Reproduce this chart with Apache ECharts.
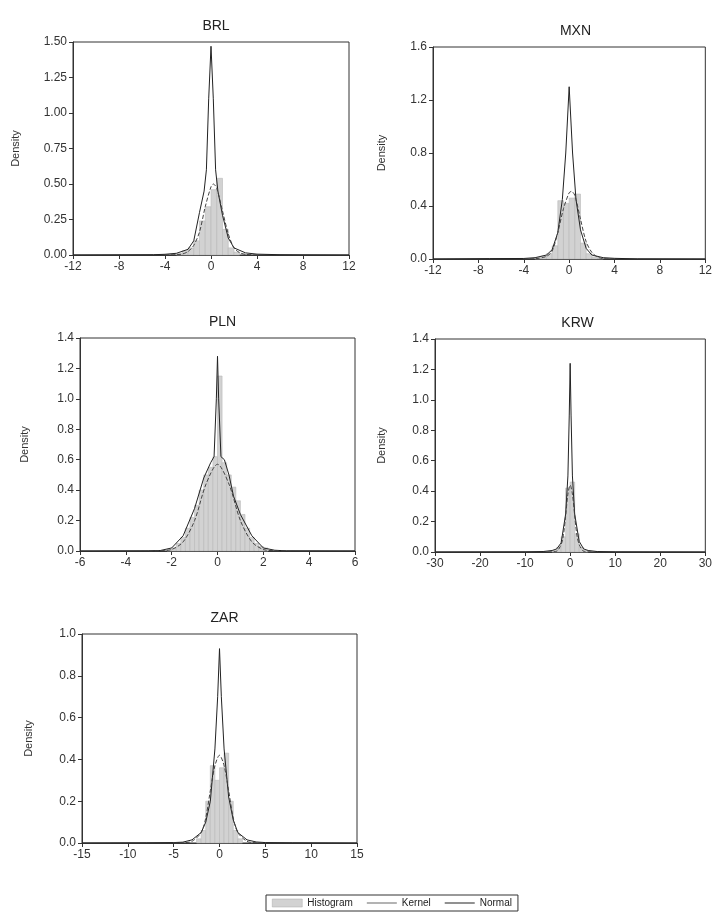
<!DOCTYPE html>
<html>
<head>
<meta charset="utf-8">
<script src="https://cdn.jsdelivr.net/npm/echarts@6/dist/echarts.min.js"></script>
<style>
  html, body { margin: 0; padding: 0; background: #fff; }
  #chart { width: 715px; height: 916px; }
</style>
</head>
<body>
<div id="chart"></div>
<script>
  // panel names
  const panels = ["BRL", "MXN", "PLN", "KRW", "ZAR"];

  // histogram bins: [center, density]
  const brlHist = [[-2.75,0.01],[-2.25,0.03],[-1.75,0.05],[-1.25,0.1],[-0.75,0.24],[-0.25,0.34],[0.25,0.46],[0.75,0.54],[1.25,0.18],[1.75,0.05],[2.25,0.02]];
  const mxnHist = [[-2.75,0.01],[-2.25,0.02],[-1.75,0.04],[-1.25,0.1],[-0.75,0.44],[-0.25,0.42],[0.25,0.46],[0.75,0.49],[1.25,0.12],[1.75,0.04],[2.25,0.015],[2.75,0.005]];
  const plnHist = [[-2.1,0.01],[-1.9,0.02],[-1.7,0.05],[-1.5,0.09],[-1.3,0.15],[-1.1,0.22],[-0.9,0.3],[-0.7,0.4],[-0.5,0.5],[-0.3,0.55],[-0.1,0.62],[0.1,1.15],[0.3,0.58],[0.5,0.5],[0.7,0.42],[0.9,0.33],[1.1,0.24],[1.3,0.15],[1.5,0.09],[1.7,0.05],[1.9,0.03],[2.1,0.02]];
  const krwHist = [[-3.5,0.01],[-2.5,0.03],[-1.5,0.1],[-0.5,0.42],[0.5,0.46],[1.5,0.12],[2.5,0.03],[3.5,0.01]];
  const zarHist = [[-2.25,0.02],[-1.75,0.06],[-1.25,0.2],[-0.75,0.37],[-0.25,0.3],[0.25,0.36],[0.75,0.43],[1.25,0.2],[1.75,0.06],[2.25,0.02]];
  const binWidths = [0.5, 0.5, 0.2, 1, 0.5];

  // kernel density: [x, density]
  const brlKernel = [[-12,0],[-8,0.001],[-5,0.002],[-4,0.005],[-3,0.012],[-2,0.04],[-1.5,0.1],[-1,0.3],[-0.6,0.45],[-0.4,0.6],[-0.2,1.1],[0,1.47],[0.2,1.1],[0.4,0.6],[0.6,0.45],[1,0.28],[1.5,0.12],[2,0.05],[3,0.015],[4,0.006],[6,0.002],[8,0.001],[12,0]];
  const mxnKernel = [[-12,0],[-7,0.003],[-4,0.004],[-3,0.01],[-2,0.03],[-1.5,0.07],[-1,0.2],[-0.6,0.45],[-0.3,0.8],[0,1.3],[0.3,0.8],[0.6,0.45],[1,0.22],[1.5,0.08],[2,0.03],[3,0.01],[4,0.005],[6,0.001],[12,0]];
  const plnKernel = [[-6,0],[-3,0.001],[-2.5,0.003],[-2,0.02],[-1.5,0.1],[-1,0.28],[-0.6,0.48],[-0.3,0.58],[-0.15,0.62],[-0.05,1.0],[0,1.28],[0.05,1.0],[0.15,0.62],[0.3,0.6],[0.5,0.5],[0.7,0.36],[1,0.24],[1.5,0.1],[2,0.02],[2.5,0.005],[3,0.001],[6,0]];
  const krwKernel = [[-30,0],[-10,0.001],[-6,0.003],[-4,0.01],[-3,0.02],[-2,0.06],[-1,0.25],[-0.5,0.5],[-0.2,0.9],[0,1.24],[0.2,0.9],[0.5,0.5],[1,0.25],[2,0.07],[3,0.02],[4,0.01],[6,0.003],[10,0.001],[30,0]];
  const zarKernel = [[-15,0],[-8,0.001],[-5,0.002],[-4,0.004],[-3,0.015],[-2,0.05],[-1.5,0.1],[-1,0.2],[-0.5,0.45],[-0.2,0.7],[0,0.93],[0.2,0.7],[0.5,0.45],[1,0.22],[1.5,0.11],[2,0.05],[3,0.015],[4,0.005],[5,0.002],[8,0.001],[15,0]];

  // theoretical normal: [x, density]
  const brlNormal = [[-4,0],[-3,0.002],[-2.5,0.007],[-2,0.024],[-1.5,0.068],[-1,0.162],[-0.5,0.34],[0,0.48],[0.2,0.5],[0.5,0.47],[1,0.31],[1.5,0.15],[2,0.05],[2.5,0.016],[3,0.005],[4,0]];
  const mxnNormal = [[-4,0],[-3,0.002],[-2,0.02],[-1.5,0.06],[-1,0.2],[-0.5,0.38],[0,0.5],[0.2,0.51],[0.5,0.48],[1,0.3],[1.5,0.13],[2,0.05],[2.5,0.015],[3,0.003],[4,0]];
  const plnNormal = [[-3,0],[-2.5,0.002],[-2,0.01],[-1.5,0.06],[-1,0.2],[-0.5,0.44],[0,0.57],[0.5,0.44],[1,0.2],[1.5,0.06],[2,0.01],[2.5,0.002],[3,0]];
  const krwNormal = [[-5,0],[-3,0.005],[-2,0.05],[-1.5,0.11],[-1,0.24],[-0.5,0.38],[0,0.44],[0.5,0.38],[1,0.24],[1.5,0.11],[2,0.05],[3,0.005],[5,0]];
  const zarNormal = [[-5,0],[-4,0.001],[-3,0.008],[-2,0.05],[-1.5,0.12],[-1,0.25],[-0.5,0.37],[0,0.42],[0.5,0.37],[1,0.25],[1.5,0.12],[2,0.05],[3,0.008],[4,0.001],[5,0]];

  // axis ranges: [min, max, interval]
  const xRanges = [[-12,12,4],[-12,12,4],[-6,6,2],[-30,30,10],[-15,15,5]];
  const yRanges = [[0,1.5,0.25],[0,1.6,0.4],[0,1.4,0.2],[0,1.4,0.2],[0,1.0,0.2]];
  const yDecimals = [2, 1, 1, 1, 1];

  const hists = [brlHist, mxnHist, plnHist, krwHist, zarHist];
  const kernels = [brlKernel, mxnKernel, plnKernel, krwKernel, zarKernel];
  const normals = [brlNormal, mxnNormal, plnNormal, krwNormal, zarNormal];

  // layout of each plot box
  const boxes = [
    {left: 73, top: 42, width: 276, height: 213, gap: 52},
    {left: 433, top: 47, width: 275, height: 212, gap: 46},
    {left: 80, top: 338, width: 275, height: 213, gap: 50},
    {left: 435, top: 339, width: 275, height: 213, gap: 48},
    {left: 82, top: 634, width: 275, height: 209, gap: 48}
  ];

  const FONT = "Liberation Sans";
  const HIST_COLOR = "#d2d2d2";
  const LINE_ICON = "path://M0,0 L30,0 L30,1 L0,1 Z";

  const chart = echarts.init(document.getElementById("chart"));

  const grid = [], xAxis = [], yAxis = [], series = [], title = [];

  panels.forEach((name, i) => {
    const b = boxes[i];
    grid.push({
      left: b.left, top: b.top, width: b.width, height: b.height,
      show: true, borderColor: "#333", borderWidth: 1, backgroundColor: "#fff"
    });
    title.push({
      text: name,
      left: b.left + b.width / 2,
      top: b.top - 28,
      textAlign: "center",
      textStyle: { fontFamily: FONT, fontSize: 14, fontWeight: "normal", color: "#222" }
    });
    xAxis.push({
      type: "value", gridIndex: i,
      min: xRanges[i][0], max: xRanges[i][1], interval: xRanges[i][2],
      splitLine: { show: false },
      axisLine: { onZero: false, lineStyle: { color: "#333" } },
      axisTick: { length: 4, lineStyle: { color: "#333" } },
      axisLabel: { fontFamily: FONT, fontSize: 12, color: "#333", margin: 6 }
    });
    yAxis.push({
      type: "value", gridIndex: i,
      min: yRanges[i][0], max: yRanges[i][1], interval: yRanges[i][2],
      name: "Density", nameLocation: "middle", nameRotate: 90, nameGap: b.gap,
      nameTextStyle: { fontFamily: FONT, fontSize: 11, color: "#333" },
      splitLine: { show: false },
      axisLine: { show: true, onZero: false, lineStyle: { color: "#333" } },
      axisTick: { show: true, length: 4, lineStyle: { color: "#333" } },
      axisLabel: {
        fontFamily: FONT, fontSize: 12, color: "#333", margin: 6,
        formatter: v => v.toFixed(yDecimals[i])
      }
    });

    const w = binWidths[i];
    series.push({
      name: "Histogram",
      type: "custom",
      xAxisIndex: i, yAxisIndex: i,
      itemStyle: { color: HIST_COLOR },
      renderItem: (params, api) => {
        const c = api.value(0), h = api.value(1);
        const p0 = api.coord([c - w / 2, h]);
        const p1 = api.coord([c + w / 2, 0]);
        return {
          type: "rect",
          shape: { x: p0[0], y: p0[1], width: p1[0] - p0[0], height: p1[1] - p0[1] },
          style: { fill: HIST_COLOR, stroke: "#b8b8b8", lineWidth: 0.6 }
        };
      },
      data: hists[i]
    });
    series.push({
      name: "Kernel",
      type: "line",
      xAxisIndex: i, yAxisIndex: i,
      showSymbol: false, symbol: "none",
      lineStyle: { color: "#222", width: 1 },
      itemStyle: { color: "#222" },
      data: kernels[i],
      z: 3
    });
    series.push({
      name: "Normal",
      type: "line",
      xAxisIndex: i, yAxisIndex: i,
      showSymbol: false, symbol: "none", smooth: 0.3,
      lineStyle: { color: "#444", width: 1, type: [4, 2] },
      itemStyle: { color: "#444" },
      data: normals[i],
      z: 4
    });
  });

  const option = {
    backgroundColor: "#fff",
    animation: false,
    title: title,
    legend: {
      left: 266, top: 895,
      data: [
        { name: "Histogram", icon: "rect", itemStyle: { color: HIST_COLOR, borderColor: "#aaa", borderWidth: 0.5 } },
        { name: "Kernel", icon: LINE_ICON, itemStyle: { color: "#666" }, lineStyle: { type: "solid", color: "#666", width: 1 } },
        { name: "Normal", icon: LINE_ICON, itemStyle: { color: "#222" }, lineStyle: { type: "solid", color: "#222", width: 1 } }
      ],
      itemWidth: 30, itemHeight: 8, itemGap: 14,
      padding: [3, 6],
      borderColor: "#333", borderWidth: 1,
      textStyle: { fontFamily: FONT, fontSize: 10, color: "#222" }
    },
    grid: grid,
    xAxis: xAxis,
    yAxis: yAxis,
    series: series
  };

  chart.setOption(option);
</script>
</body>
</html>
